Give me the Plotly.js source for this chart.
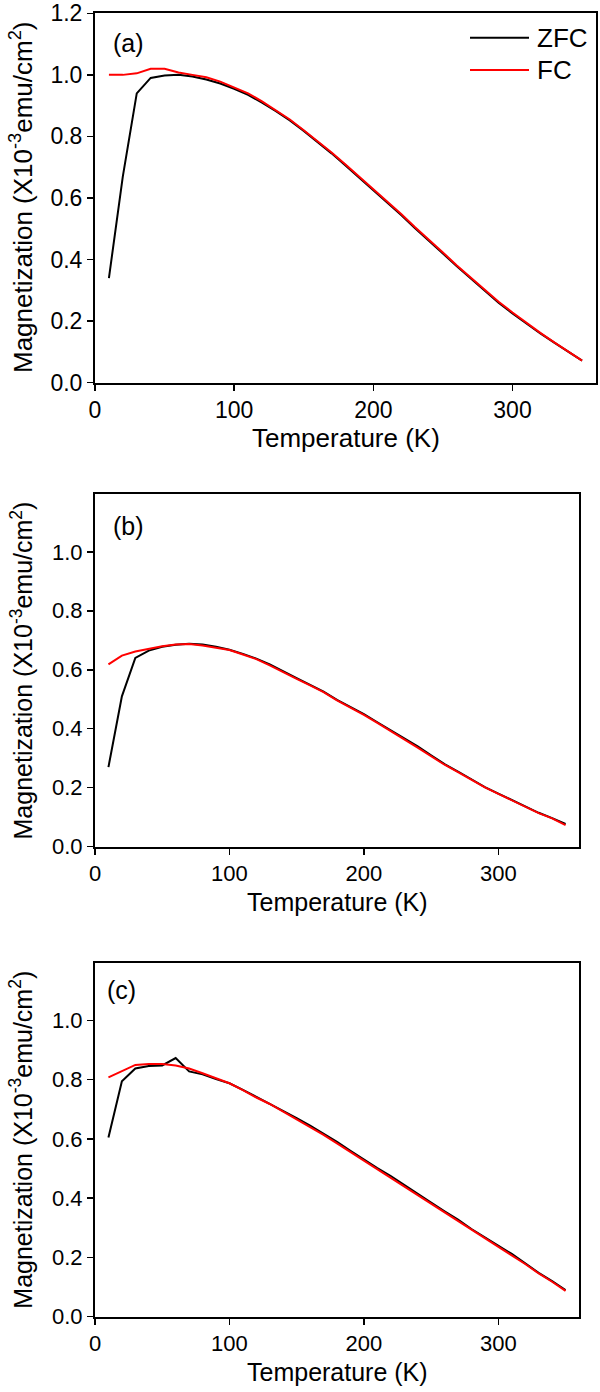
<!DOCTYPE html>
<html>
<head>
<meta charset="utf-8">
<script src="https://cdn.plot.ly/plotly-3.0.1.min.js"></script>
<style>html,body{margin:0;padding:0;background:#fff;}#chart{width:600px;height:1392px;}</style>
</head>
<body>
<div id="chart"></div>
<script>
// Temperature (K)
const temps = [10,20,30,40,50,60,70,80,90,100,110,120,130,140,150,160,170,180,190,200,210,220,230,240,250,260,270,280,290,300,310,320,330,340,350];

// Panel (a)
const zfcA = [0.34,0.67,0.94,0.99,0.998,1.000,0.995,0.985,0.972,0.955,0.935,0.910,0.882,0.852,0.818,0.782,0.745,0.706,0.666,0.626,0.585,0.545,0.502,0.462,0.420,0.378,0.338,0.298,0.260,0.225,0.192,0.160,0.130,0.100,0.072];
const fcA  = [1.000,1.000,1.005,1.020,1.020,1.008,1.000,0.992,0.978,0.960,0.940,0.914,0.885,0.855,0.820,0.785,0.748,0.709,0.669,0.629,0.588,0.548,0.505,0.465,0.423,0.381,0.341,0.301,0.263,0.228,0.194,0.162,0.131,0.101,0.072];

// Panel (b)
const zfcB = [0.27,0.51,0.64,0.665,0.678,0.685,0.688,0.686,0.678,0.668,0.654,0.638,0.618,0.594,0.572,0.549,0.526,0.498,0.474,0.450,0.422,0.395,0.368,0.340,0.310,0.280,0.255,0.228,0.202,0.180,0.158,0.135,0.115,0.097,0.077];
const fcB  = [0.618,0.648,0.662,0.672,0.680,0.686,0.687,0.682,0.675,0.667,0.652,0.636,0.615,0.591,0.569,0.547,0.524,0.496,0.472,0.447,0.420,0.393,0.364,0.336,0.307,0.278,0.253,0.227,0.201,0.179,0.157,0.134,0.114,0.096,0.073];

// Panel (c)
const zfcC = [0.605,0.795,0.838,0.846,0.848,0.873,0.828,0.818,0.802,0.788,0.766,0.742,0.720,0.695,0.670,0.645,0.618,0.590,0.560,0.530,0.502,0.475,0.444,0.416,0.385,0.356,0.328,0.296,0.268,0.240,0.212,0.180,0.148,0.120,0.090];
const fcC  = [0.808,0.830,0.850,0.853,0.853,0.848,0.838,0.822,0.805,0.788,0.765,0.740,0.718,0.692,0.667,0.642,0.614,0.585,0.556,0.527,0.499,0.471,0.441,0.413,0.382,0.353,0.325,0.294,0.266,0.237,0.209,0.178,0.146,0.118,0.087];

const xTicks = [0,100,200,300];
const yTicksA = [0,0.2,0.4,0.6,0.8,1.0,1.2];
const yTicksBC = [0,0.2,0.4,0.6,0.8,1.0];
const seriesNames = ['ZFC','FC'];
const panelLabels = ['(a)','(b)','(c)'];
const xTitle = 'Temperature (K)';
const yTitle = 'Magnetization (X10<sup>-3</sup>emu/cm<sup>2</sup>)';

const W = 600, H = 1392;
const px = v => v / W;
const py = v => 1 - v / H;
const FONT = 'Liberation Sans, Arial, sans-serif';

// panel geometry in page pixels: [left, right, top, bottom]
const geo = [
  [95, 596, 13.3, 382.7],
  [95, 579, 494.3, 846.7],
  [95, 579, 962.7, 1316.7]
];
const tickSize = [23, 22, 22];
const titleSize = [26, 25, 25];

const data = [];
const sets = [[zfcA, fcA], [zfcB, fcB], [zfcC, fcC]];
sets.forEach((s, i) => {
  const sfx = i === 0 ? '' : String(i + 1);
  data.push({x: temps, y: s[0], type: 'scatter', mode: 'lines', name: seriesNames[0],
    line: {color: '#000000', width: 2}, xaxis: 'x' + sfx, yaxis: 'y' + sfx, showlegend: false});
  data.push({x: temps, y: s[1], type: 'scatter', mode: 'lines', name: seriesNames[1],
    line: {color: '#ff0000', width: 2}, xaxis: 'x' + sfx, yaxis: 'y' + sfx, showlegend: false});
});

const layout = {
  width: W, height: H,
  margin: {l: 0, r: 0, t: 0, b: 0},
  paper_bgcolor: '#ffffff', plot_bgcolor: '#ffffff',
  showlegend: false,
  annotations: [], shapes: []
};

geo.forEach((g, i) => {
  const sfx = i === 0 ? '' : String(i + 1);
  layout['xaxis' + sfx] = {
    domain: [px(g[0]), px(g[1])], range: [0, 360], anchor: 'y' + sfx,
    tickvals: xTicks, ticks: 'outside', ticklen: 6, tickwidth: 1.5, tickcolor: '#000',
    showline: true, linewidth: 2, linecolor: '#000', mirror: true,
    showgrid: false, zeroline: false, fixedrange: true,
    tickfont: {family: FONT, size: tickSize[i], color: '#000'}
  };
  layout['yaxis' + sfx] = {
    domain: [py(g[3]), py(g[2])], range: i === 0 ? [0, 1.2] : [0, 1.195], anchor: 'x' + sfx,
    tickvals: i === 0 ? yTicksA : yTicksBC, tickformat: '.1f',
    ticks: 'outside', ticklen: 6, tickwidth: 1.5, tickcolor: '#000',
    showline: true, linewidth: 2, linecolor: '#000', mirror: true,
    showgrid: false, zeroline: false, fixedrange: true,
    tickfont: {family: FONT, size: tickSize[i], color: '#000'}
  };
  // x title
  layout.annotations.push({
    text: xTitle, xref: 'paper', yref: 'paper',
    x: px((g[0] + g[1]) / 2), y: py(g[3] + 55), xanchor: 'center', yanchor: 'middle',
    showarrow: false, font: {family: FONT, size: titleSize[i], color: '#000'}
  });
  // y title
  layout.annotations.push({
    text: yTitle, xref: 'paper', yref: 'paper', textangle: -90,
    x: px(21), y: py((g[2] + g[3]) / 2), xanchor: 'center', yanchor: 'middle',
    showarrow: false, font: {family: FONT, size: titleSize[i], color: '#000'}
  });
});

// panel labels
const labPos = [[111, 43], [111, 526], [105, 990]];
panelLabels.forEach((t, i) => {
  layout.annotations.push({
    text: t, xref: 'paper', yref: 'paper', x: px(labPos[i][0]), y: py(labPos[i][1]),
    xanchor: 'left', yanchor: 'middle', showarrow: false,
    font: {family: FONT, size: 25, color: '#000'}
  });
});

// legend (panel a)
const legColors = ['#000000', '#ff0000'];
const legY = [37.7, 70];
seriesNames.forEach((n, i) => {
  layout.shapes.push({type: 'line', xref: 'paper', yref: 'paper',
    x0: px(470), x1: px(529), y0: py(legY[i]), y1: py(legY[i]),
    line: {color: legColors[i], width: 2}});
  layout.annotations.push({
    text: n, xref: 'paper', yref: 'paper', x: px(535), y: py(legY[i]),
    xanchor: 'left', yanchor: 'middle', showarrow: false,
    font: {family: FONT, size: 26, color: '#000'}
  });
});

Plotly.newPlot('chart', data, layout, {displayModeBar: false, staticPlot: true});
</script>
</body>
</html>
